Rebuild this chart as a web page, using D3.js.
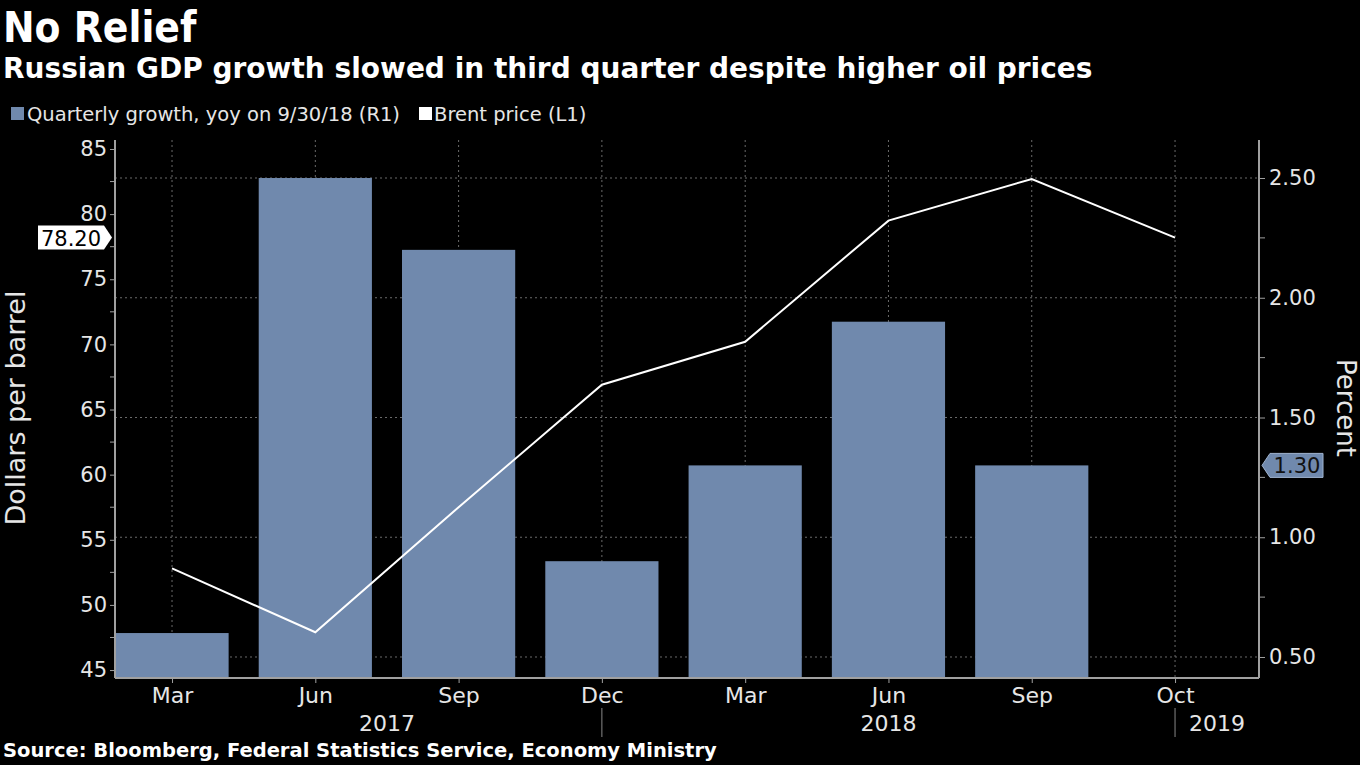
<!DOCTYPE html>
<html><head><meta charset="utf-8">
<script src="https://cdn.jsdelivr.net/npm/d3@7"></script>
<style>
html,body{margin:0;padding:0;background:#000;}
svg{display:block;}
text{font-family:"DejaVu Sans",sans-serif;}
</style></head>
<body>
<svg id="c" width="1360" height="765"></svg>
<script>
// ---- data ----
const monthLabels = ["Mar","Jun","Sep","Dec","Mar","Jun","Sep","Oct"];
const gdpGrowth = [0.6, 2.5, 2.2, 0.9, 1.3, 1.9, 1.3, null];      // percent (R1)
const brentPrice = [52.8, 47.9, 57.5, 66.9, 70.2, 79.5, 82.7, 78.2]; // USD/bbl (L1)
const leftTicks = [45,50,55,60,65,70,75,80,85];
const leftMinor = [47.5,52.5,57.5,62.5,67.5,72.5,77.5,82.5];
const rightTicks = [0.5,1.0,1.5,2.0,2.5];
const rightMinor = [0.75,1.25,1.75,2.25];
const years = [{label:"2017", from:0, to:3}, {label:"2018", from:4, to:6}, {label:"2019", from:7, to:7.6}];
const yearSeps = [3, 7];

const svg = d3.select("#c");
const W=1360,H=765;
svg.append("rect").attr("width",W).attr("height",H).attr("fill","#000");

const L=115, R=1259, T=140, B=678;
const x = d3.scaleLinear().domain([-0.398, 7.586]).range([L,R]);
const step = x(1)-x(0);
const yL = d3.scaleLinear().domain([44.39, 85.69]).range([B,T]);
const yR = d3.scaleLinear().domain([0.4123, 2.6587]).range([B,T]);

const axisCol="#a0a0a0", gridCol="#6a6a6a", textCol="#e6e6e6", barCol="#7089ad";
const tickFont = 21;

// gridlines
const g = svg.append("g");
g.selectAll(".hg").data(rightTicks).join("line")
  .attr("x1",L).attr("x2",R).attr("y1",d=>yR(d)).attr("y2",d=>yR(d))
  .attr("stroke",gridCol).attr("stroke-width",1).attr("stroke-dasharray","2,3");
g.selectAll(".vg").data(d3.range(monthLabels.length)).join("line")
  .attr("x1",d=>x(d)).attr("x2",d=>x(d)).attr("y1",T).attr("y2",B)
  .attr("stroke",gridCol).attr("stroke-width",1).attr("stroke-dasharray","2,3");

// bars
svg.append("g").selectAll("rect").data(gdpGrowth.map((v,i)=>({v,i})).filter(d=>d.v!=null)).join("rect")
  .attr("x",d=>x(d.i)-step*0.395).attr("width",step*0.79)
  .attr("y",d=>yR(d.v)).attr("height",d=>B-yR(d.v))
  .attr("fill",barCol);

// line
svg.append("path").datum(brentPrice)
  .attr("d", d3.line().x((d,i)=>x(i)).y(d=>yL(d)))
  .attr("fill","none").attr("stroke","#fff").attr("stroke-width",2);

// left axis
const la = svg.append("g").attr("transform",`translate(${L},0)`)
  .call(d3.axisLeft(yL).tickValues(leftTicks).tickSize(5).tickPadding(3).tickFormat(d3.format("d")));
la.selectAll(".tick text").attr("font-size",tickFont).attr("fill",textCol);
la.select(".domain").remove();
svg.append("g").selectAll("line").data(leftMinor).join("line")
  .attr("x1",L-5).attr("x2",L).attr("y1",d=>yL(d)).attr("y2",d=>yL(d)).attr("stroke",axisCol);
la.selectAll(".tick line").attr("stroke",axisCol);
svg.append("line").attr("x1",L).attr("x2",L).attr("y1",T).attr("y2",B).attr("stroke",axisCol).attr("stroke-width",2);

// right axis
const ra = svg.append("g").attr("transform",`translate(${R},0)`)
  .call(d3.axisRight(yR).tickValues(rightTicks).tickSize(6).tickPadding(4).tickFormat(d3.format(".2f")));
ra.selectAll(".tick text").attr("font-size",tickFont).attr("fill",textCol);
ra.select(".domain").remove();
ra.selectAll(".tick line").attr("stroke",axisCol);
svg.append("g").selectAll("line").data(rightMinor).join("line")
  .attr("x1",R).attr("x2",R+6).attr("y1",d=>yR(d)).attr("y2",d=>yR(d)).attr("stroke",axisCol);
svg.append("line").attr("x1",R).attr("x2",R).attr("y1",T).attr("y2",B).attr("stroke",axisCol).attr("stroke-width",2);

// bottom axis
const ba = svg.append("g").attr("transform",`translate(0,${B})`)
  .call(d3.axisBottom(x).tickValues(d3.range(monthLabels.length)).tickSize(5).tickPadding(4).tickFormat(i=>monthLabels[i]));
ba.selectAll(".tick text").attr("font-size",22).attr("fill",textCol);
ba.selectAll(".tick line").attr("stroke",axisCol);
ba.select(".domain").remove();
svg.append("line").attr("x1",L).attr("x2",R).attr("y1",B).attr("y2",B).attr("stroke",axisCol).attr("stroke-width",2);

// years
svg.append("g").selectAll("text").data(years).join("text")
  .attr("x",d=>d.label==="2019"? x(d.from)+42 : (x(d.from)+x(d.to))/2)
  .attr("y",731).attr("text-anchor","middle").attr("font-size",22).attr("fill",textCol).text(d=>d.label);
svg.append("g").selectAll("line").data(yearSeps).join("line")
  .attr("x1",d=>x(d)).attr("x2",d=>x(d)).attr("y1",708).attr("y2",737).attr("stroke","#888");

// axis titles
svg.append("text").attr("transform","translate(25,408) rotate(-90)").attr("text-anchor","middle")
  .attr("font-size",27).attr("fill",textCol).text("Dollars per barrel");
svg.append("text").attr("transform","translate(1337,408) rotate(90)").attr("text-anchor","middle")
  .attr("font-size",26).attr("fill",textCol).text("Percent");

// callouts
const lastBrent = brentPrice[brentPrice.length-1];
const cy1 = yL(lastBrent);
svg.append("path").attr("d",`M38,${cy1-12}H104L112,${cy1}L104,${cy1+12}H38Z`).attr("fill","#fff");
svg.append("text").attr("x",71).attr("y",cy1+8).attr("text-anchor","middle").attr("font-size",21).attr("fill","#000")
  .text(lastBrent.toFixed(2));
const lastGdp = gdpGrowth[6];
const cy2 = yR(lastGdp);
svg.append("path").attr("d",`M1262,${cy2}L1270,${cy2-12}H1323V${cy2+12}H1270Z`).attr("fill",barCol).attr("stroke","#9fb3cf").attr("stroke-width",1);
svg.append("text").attr("x",1297).attr("y",cy2+8).attr("text-anchor","middle").attr("font-size",21).attr("fill","#111")
  .text(lastGdp.toFixed(2));

// titles
svg.append("text").attr("x",3).attr("y",42).attr("font-size",42).attr("font-weight","bold").attr("fill","#fff")
  .style("font-family","'DejaVu Sans Condensed','DejaVu Sans',sans-serif").text("No Relief");
svg.append("text").attr("x",3).attr("y",78).attr("font-size",28).attr("font-weight","bold").attr("fill","#fff")
  .text("Russian GDP growth slowed in third quarter despite higher oil prices");

// legend
svg.append("rect").attr("x",11).attr("y",107).attr("width",13).attr("height",13).attr("fill",barCol);
svg.append("text").attr("x",27).attr("y",121).attr("font-size",19.5).attr("fill",textCol).text("Quarterly growth, yoy on 9/30/18 (R1)");
svg.append("rect").attr("x",419).attr("y",107).attr("width",13).attr("height",13).attr("fill","#fff");
svg.append("text").attr("x",434).attr("y",121).attr("font-size",19.5).attr("fill",textCol).text("Brent price (L1)");

// source
svg.append("text").attr("x",3).attr("y",757).attr("font-size",19.5).attr("font-weight","bold").attr("fill","#fff")
  .text("Source: Bloomberg, Federal Statistics Service, Economy Ministry");
</script>
</body></html>
